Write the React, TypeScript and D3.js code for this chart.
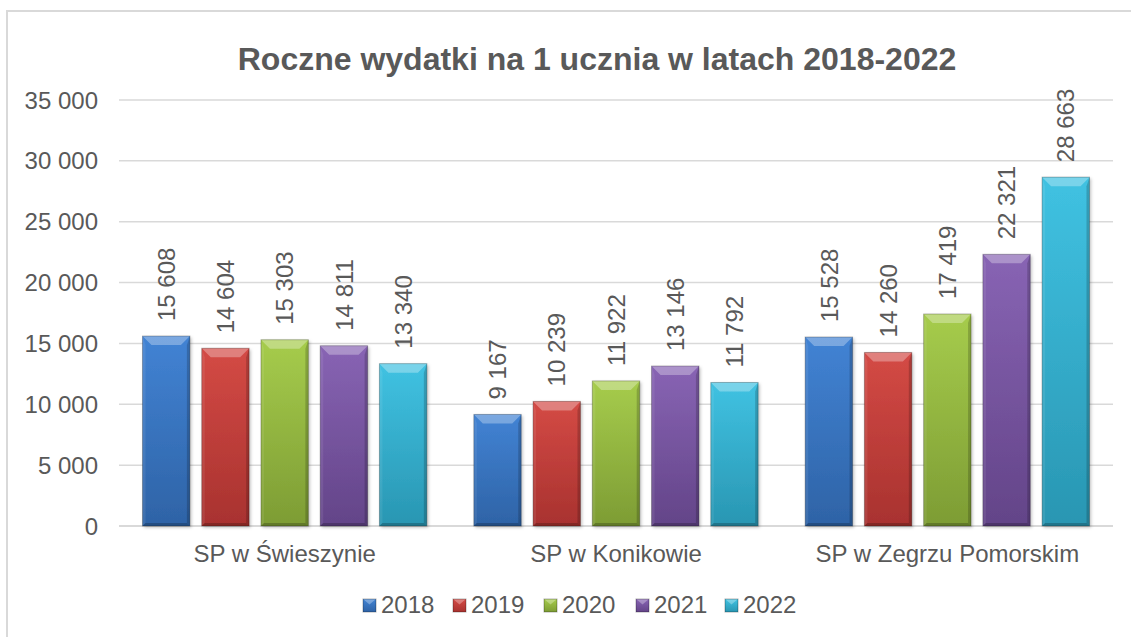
import React from "react";
import * as d3 from "d3";

const categories = ["SP w Świeszynie", "SP w Konikowie", "SP w Zegrzu Pomorskim"];
const years = ["2018", "2019", "2020", "2021", "2022"];
const values2018 = [15608, 9167, 15528];
const values2019 = [14604, 10239, 14260];
const values2020 = [15303, 11922, 17419];
const values2021 = [14811, 13146, 22321];
const values2022 = [13340, 11792, 28663];
const seriesValues = [values2018, values2019, values2020, values2021, values2022];
const yTicks = [0, 5000, 10000, 15000, 20000, 25000, 30000, 35000];
const colorsTop = ["#4283d4", "#d44a45", "#a6cc4c", "#8864b4", "#40c2e2"];
const colorsBottom = ["#2e63a6", "#a8322f", "#7d9c34", "#634488", "#2996b2"];

const W = 1131;
const H = 637;
const margin = { left: 119, right: 18, top: 100, bottom: 111 };

const locale = d3.formatLocale({ decimal: ",", thousands: "\u00a0", grouping: [3], currency: ["", " zł"] });
const fmt = locale.format(",d");

export default function App() {
  const plotW = W - margin.left - margin.right;
  const y = d3.scaleLinear().domain([0, 35000]).range([H - margin.bottom, margin.top]);
  const x0 = d3.scaleBand<string>().domain(categories).range([margin.left, margin.left + plotW]).paddingInner(0).paddingOuter(0);
  const groupPad = 23.5;
  const x1 = d3.scaleBand<string>().domain(years).range([groupPad, x0.bandwidth() - groupPad]).paddingInner(0.2).paddingOuter(0);
  const font = "'Liberation Sans', Arial, sans-serif";
  const textColor = "#595959";
  const bw = x1.bandwidth();

  const legendX = [363, 453, 544, 636, 725];

  return (
    <svg width={W} height={H} style={{ position: "absolute", left: 0, top: 0, background: "#fff" }}>
      <defs>
        {years.map((yr, i) => (
          <linearGradient key={yr} id={`g${i}`} x1="0" y1="0" x2="0" y2="1">
            <stop offset="0%" stopColor={colorsTop[i]} />
            <stop offset="100%" stopColor={colorsBottom[i]} />
          </linearGradient>
        ))}
        <filter id="shadow" x="-20%" y="-10%" width="140%" height="130%">
          <feDropShadow dx="1.5" dy="1.5" stdDeviation="1.5" floodColor="#000" floodOpacity="0.25" />
        </filter>
      </defs>
      <rect x={7} y={11} width={W + 10} height={H + 10} fill="#fff" stroke="#d9d9d9" strokeWidth={2} />
      <text x={597} y={70} textAnchor="middle" fontFamily={font} fontWeight="bold" fontSize={32} fill={textColor}>
        Roczne wydatki na 1 ucznia w latach 2018-2022
      </text>
      {yTicks.map((t) => (
        <g key={t}>
          <line x1={margin.left} x2={margin.left + plotW} y1={y(t)} y2={y(t)} stroke="#d9d9d9" strokeWidth={t === 0 ? 2 : 1.5} />
          <text x={98} y={y(t)} dy="0.36em" textAnchor="end" fontFamily={font} fontSize={24} fill={textColor}>
            {fmt(t)}
          </text>
        </g>
      ))}
      {categories.map((c, ci) => (
        <g key={c}>
          {years.map((yr, si) => {
            const v = seriesValues[si][ci];
            const bx = (x0(c) as number) + (x1(yr) as number);
            const by = y(v);
            const bh = y(0) - by;
            const bev = Math.min(9, bh / 2);
            const side = 3;
            const cx = bx + bw / 2;
            return (
              <g key={yr}>
                <rect x={bx} y={by} width={bw} height={bh} fill={`url(#g${si})`} filter="url(#shadow)" />
                <polygon points={`${bx},${by} ${bx + bw},${by} ${bx + bw - bev},${by + bev} ${bx + bev},${by + bev}`} fill="#fff" opacity={0.3} />
                <polygon points={`${bx},${by} ${bx + side},${by + bev} ${bx + side},${by + bh - side} ${bx},${by + bh}`} fill="#fff" opacity={0.08} />
                <polygon points={`${bx + bw},${by} ${bx + bw - side},${by + bev} ${bx + bw - side},${by + bh - side} ${bx + bw},${by + bh}`} fill="#000" opacity={0.18} />
                <polygon points={`${bx},${by + bh} ${bx + side},${by + bh - side} ${bx + bw - side},${by + bh - side} ${bx + bw},${by + bh}`} fill="#000" opacity={0.22} />
                <rect x={bx} y={by} width={bw} height={bh} fill="none" stroke="#000" strokeOpacity={0.25} strokeWidth={1} />
                <text
                  transform={`translate(${cx},${by - 15}) rotate(-90)`}
                  dy="0.36em"
                  textAnchor="start"
                  fontFamily={font}
                  fontSize={24}
                  fill={textColor}
                >
                  {fmt(v)}
                </text>
              </g>
            );
          })}
          <text x={(x0(c) as number) + x0.bandwidth() / 2} y={562} textAnchor="middle" fontFamily={font} fontSize={24} fill={textColor}>
            {c}
          </text>
        </g>
      ))}
      {years.map((yr, i) => {
        const lx = legendX[i];
        const ly = 599;
        const s = 13;
        return (
          <g key={yr}>
            <rect x={lx} y={ly} width={s} height={s} fill={`url(#g${i})`} />
            <polygon points={`${lx},${ly} ${lx + s},${ly} ${lx + s / 2},${ly + s / 2 - 1}`} fill="#fff" opacity={0.3} />
            <rect x={lx} y={ly} width={s} height={s} fill="none" stroke="#000" strokeOpacity={0.3} strokeWidth={1} />
            <text x={lx + s + 5} y={613} fontFamily={font} fontSize={24} fill={textColor}>
              {yr}
            </text>
          </g>
        );
      })}
    </svg>
  );
}
